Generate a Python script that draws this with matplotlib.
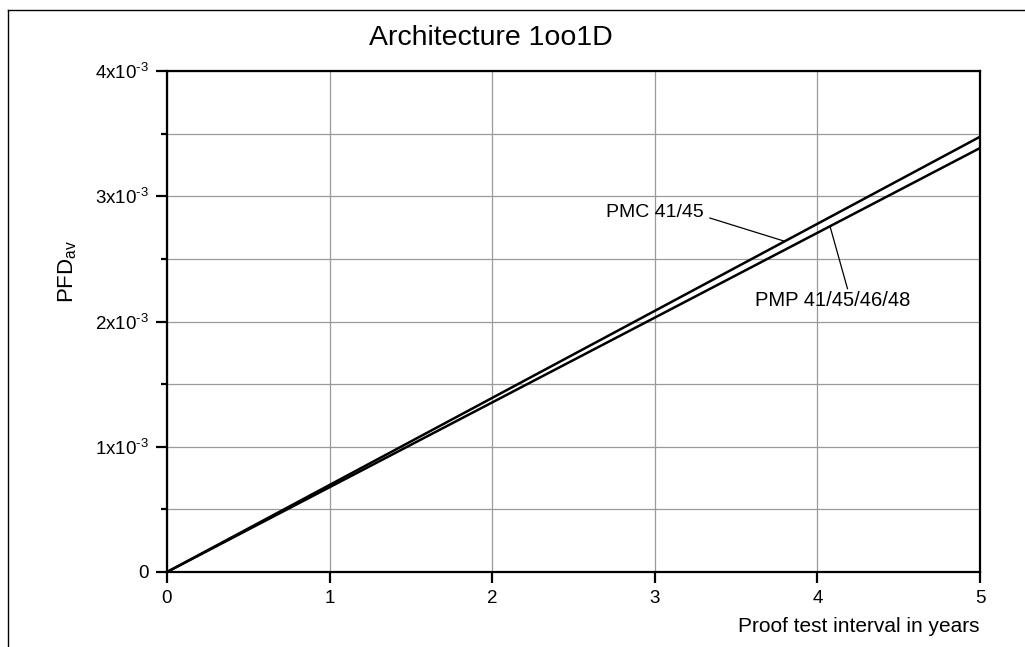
import numpy as np
import matplotlib
matplotlib.use("Agg")
import matplotlib.pyplot as plt
from matplotlib.lines import Line2D
from matplotlib.ticker import FixedLocator, FixedFormatter, MultipleLocator

plt.rcParams['font.family'] = ['Liberation Sans', 'DejaVu Sans']
plt.rcParams['mathtext.fontset'] = 'custom'
plt.rcParams['mathtext.rm'] = 'Liberation Sans'
plt.rcParams['mathtext.it'] = 'Liberation Sans'

# proof test interval (years) and PFDav for each device family
years = [0, 1, 2, 3, 4, 5]
pmc = [0.0, 0.695e-3, 1.39e-3, 2.085e-3, 2.78e-3, 3.475e-3]
pmp = [0.0, 0.677e-3, 1.354e-3, 2.031e-3, 2.708e-3, 3.385e-3]

y_ticks = [0, 1e-3, 2e-3, 3e-3, 4e-3]
y_tick_labels = ["0", r"1x10$^{\mathregular{‐3}}$", r"2x10$^{\mathregular{‐3}}$",
                 r"3x10$^{\mathregular{‐3}}$", r"4x10$^{\mathregular{‐3}}$"]

fig = plt.figure(figsize=(10.25, 6.47), dpi=100)
ax = fig.add_axes([167 / 1025, 1 - 572 / 647, (980 - 167) / 1025, (572 - 71) / 647])

ax.plot(years, pmc, color="black", lw=1.8, solid_capstyle="butt")
ax.plot(years, pmp, color="black", lw=1.8, solid_capstyle="butt")

ax.set_xlim(0, 5)
ax.set_ylim(0, 4e-3)
ax.xaxis.set_major_locator(MultipleLocator(1))
ax.yaxis.set_major_locator(FixedLocator(y_ticks))
ax.yaxis.set_major_formatter(FixedFormatter(y_tick_labels))
ax.yaxis.set_minor_locator(MultipleLocator(0.5e-3))

ax.grid(which="major", color="#9a9a9a", lw=0.9)
ax.grid(which="minor", axis="y", color="#9a9a9a", lw=0.9)
ax.set_axisbelow(True)

for s in ax.spines.values():
    s.set_linewidth(1.6)
ax.tick_params(which="major", direction="out", length=8, width=1.6, labelsize=13.5, pad=5)
ax.tick_params(which="minor", direction="out", length=4, width=1.6)

ax.set_ylabel(r"PFD$_{\mathregular{av}}$", fontsize=16)
ax.yaxis.set_label_coords(-0.108, 0.6)

fig.text(980 / 1025, 1 - 627 / 647, "Proof test interval in years", ha="right", va="center", fontsize=15)
fig.text(491 / 1025, 1 - 38 / 647, "Architecture 1oo1D", ha="center", va="center", fontsize=20.5)

# labels with leader lines
ax.text(3.0, 2.874e-3, "PMC 41/45", ha="center", va="center", fontsize=14)
ax.plot([3.339, 3.80], [2.826e-3, 2.64e-3], color="black", lw=0.9)
ax.text(4.096, 2.165e-3, "PMP 41/45/46/48", ha="center", va="center", fontsize=14.5)
ax.plot([4.185, 4.078], [2.262e-3, 2.758e-3], color="black", lw=0.9)

# outer frame (open on right/bottom edges)
fig.add_artist(Line2D([8 / 1025, 8 / 1025], [0, 1 - 10 / 647], transform=fig.transFigure, color="black", lw=1))
fig.add_artist(Line2D([8 / 1025, 1], [1 - 10 / 647, 1 - 10 / 647], transform=fig.transFigure, color="black", lw=1))

fig.savefig("out.png", dpi=100)
